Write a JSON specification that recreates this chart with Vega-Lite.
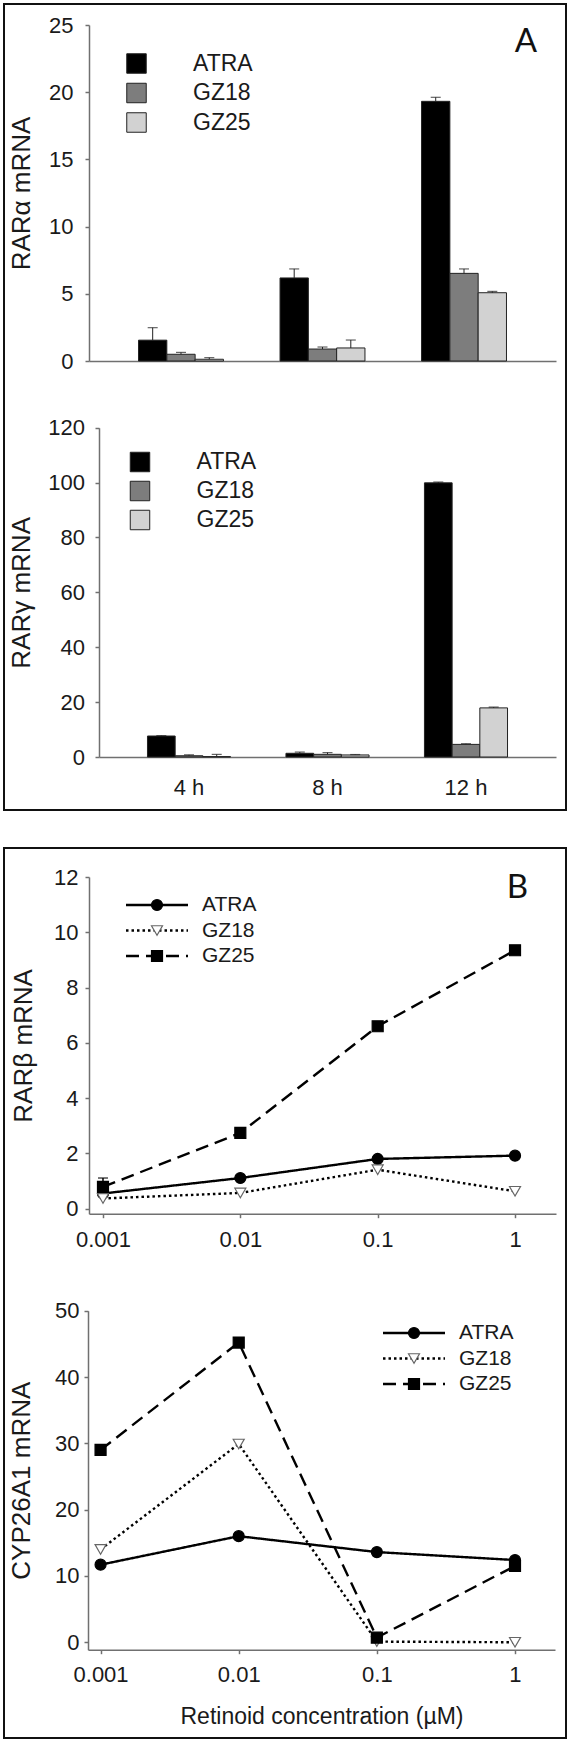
{
  "$schema": "https://vega.github.io/schema/vega-lite/v6.json",
  "padding": {"left": 3, "top": 3, "right": 3, "bottom": 3},
  "spacing": 36,
  "config": {
    "font": "Liberation Sans",
    "view": {"stroke": "#111111", "strokeWidth": 2},
    "axis": {"grid": false, "domainColor": "#707070", "domainWidth": 1.5, "tickColor": "#707070", "tickWidth": 1.5, "labelFontSize": 22, "labelColor": "#1a1a1a", "labelFont": "Liberation Sans", "titleFontSize": 26, "titleFontWeight": "normal", "titleColor": "#1a1a1a", "titleFont": "Liberation Sans"},
    "legend": {"labelFont": "Liberation Sans", "labelColor": "#1a1a1a", "padding": 0, "title": null}
  },
  "datasets": {
    "rara": [
      {"time": "4 h", "group": "ATRA", "value": 1.55, "upper": 2.48},
      {"time": "4 h", "group": "GZ18", "value": 0.5, "upper": 0.64},
      {"time": "4 h", "group": "GZ25", "value": 0.13, "upper": 0.25},
      {"time": "8 h", "group": "ATRA", "value": 6.18, "upper": 6.85},
      {"time": "8 h", "group": "GZ18", "value": 0.89, "upper": 1.04},
      {"time": "8 h", "group": "GZ25", "value": 0.97, "upper": 1.56},
      {"time": "12 h", "group": "ATRA", "value": 19.32, "upper": 19.62},
      {"time": "12 h", "group": "GZ18", "value": 6.52, "upper": 6.85},
      {"time": "12 h", "group": "GZ25", "value": 5.08, "upper": 5.18}
    ],
    "rarg": [
      {"time": "4 h", "group": "ATRA", "value": 7.65, "upper": 7.8},
      {"time": "4 h", "group": "GZ18", "value": 0.45, "upper": 0.8},
      {"time": "4 h", "group": "GZ25", "value": 0.15, "upper": 0.95},
      {"time": "8 h", "group": "ATRA", "value": 1.35, "upper": 1.8},
      {"time": "8 h", "group": "GZ18", "value": 0.97, "upper": 1.6},
      {"time": "8 h", "group": "GZ25", "value": 0.75, "upper": 0.9},
      {"time": "12 h", "group": "ATRA", "value": 99.9, "upper": 100.2},
      {"time": "12 h", "group": "GZ18", "value": 4.6, "upper": 4.85},
      {"time": "12 h", "group": "GZ25", "value": 17.9, "upper": 18.2}
    ],
    "rarb": [
      {"conc": 0.001, "group": "ATRA", "value": 0.55},
      {"conc": 0.01, "group": "ATRA", "value": 1.11},
      {"conc": 0.1, "group": "ATRA", "value": 1.8},
      {"conc": 1, "group": "ATRA", "value": 1.92},
      {"conc": 0.001, "group": "GZ18", "value": 0.37},
      {"conc": 0.01, "group": "GZ18", "value": 0.57},
      {"conc": 0.1, "group": "GZ18", "value": 1.41},
      {"conc": 1, "group": "GZ18", "value": 0.63},
      {"conc": 0.001, "group": "GZ25", "value": 0.79, "upper": 1.11},
      {"conc": 0.01, "group": "GZ25", "value": 2.74},
      {"conc": 0.1, "group": "GZ25", "value": 6.6},
      {"conc": 1, "group": "GZ25", "value": 9.35}
    ],
    "cyp": [
      {"conc": 0.001, "group": "ATRA", "value": 11.7},
      {"conc": 0.01, "group": "ATRA", "value": 16.0},
      {"conc": 0.1, "group": "ATRA", "value": 13.6},
      {"conc": 1, "group": "ATRA", "value": 12.4},
      {"conc": 0.001, "group": "GZ18", "value": 14.0},
      {"conc": 0.01, "group": "GZ18", "value": 29.9},
      {"conc": 0.1, "group": "GZ18", "value": 0.1},
      {"conc": 1, "group": "GZ18", "value": 0.0},
      {"conc": 0.001, "group": "GZ25", "value": 29.0},
      {"conc": 0.01, "group": "GZ25", "value": 45.2},
      {"conc": 0.1, "group": "GZ25", "value": 0.7},
      {"conc": 1, "group": "GZ25", "value": 11.5}
    ]
  },
  "vconcat": [
    {
      "width": 562,
      "height": 806,
      "title": {"text": "A", "orient": "top", "anchor": "end", "frame": "group", "offset": -55, "dx": -29, "baseline": "top", "font": "Lato", "fontSize": 33, "fontWeight": "normal", "color": "#111111"},
      "layer": [
        {
          "data": {"name": "rara"},
          "layer": [
            {
              "mark": {"type": "bar", "stroke": "#222222", "strokeWidth": 1},
              "encoding": {
                "x": {"field": "time", "type": "nominal", "sort": ["4 h", "8 h", "12 h"],
                  "scale": {"domain": ["4 h", "8 h", "12 h"], "range": [85, 552], "paddingInner": 0.4, "paddingOuter": 0.35},
                  "axis": {"orient": "bottom", "offset": -449, "labels": false, "ticks": false, "title": null}},
                "xOffset": {"field": "group", "type": "nominal", "scale": {"domain": ["ATRA", "GZ18", "GZ25"], "paddingInner": 0, "paddingOuter": 0}},
                "y": {"field": "value", "type": "quantitative",
                  "scale": {"domain": [0, 25], "range": [357, 21], "nice": false},
                  "axis": {"orient": "left", "offset": -85, "values": [0, 5, 10, 15, 20, 25], "format": "~g", "tickSize": 4, "labelPadding": 12, "title": "RARα mRNA", "titleX": -60, "titleBaseline": "alphabetic"}},
                "fill": {"field": "group", "type": "nominal",
                  "scale": {"domain": ["ATRA", "GZ18", "GZ25"], "range": ["#000000", "#7d7d7d", "#d2d2d2"]},
                  "legend": {"orient": "none", "legendX": 121, "legendY": 48, "title": null, "symbolType": "square", "symbolSize": 380, "symbolStrokeColor": "#222222", "symbolStrokeWidth": 1, "symbolOpacity": 1, "labelFontSize": 23, "labelOffset": 45, "clipHeight": 23, "rowPadding": 5.5}}
              }
            },
            {
              "mark": {"type": "rule", "color": "#222222", "strokeWidth": 1},
              "encoding": {
                "x": {"field": "time", "type": "nominal"},
                "xOffset": {"field": "group", "type": "nominal"},
                "y": {"field": "value", "type": "quantitative"},
                "y2": {"field": "upper"}
              }
            },
            {
              "mark": {"type": "tick", "orient": "horizontal", "color": "#222222", "thickness": 1.2, "size": 10},
              "encoding": {
                "x": {"field": "time", "type": "nominal"},
                "xOffset": {"field": "group", "type": "nominal"},
                "y": {"field": "upper", "type": "quantitative"}
              }
            }
          ]
        },
        {
          "data": {"name": "rarg"},
          "layer": [
            {
              "mark": {"type": "bar", "stroke": "#222222", "strokeWidth": 1},
              "encoding": {
                "x": {"field": "time", "type": "nominal", "sort": ["4 h", "8 h", "12 h"],
                  "scale": {"domain": ["4 h", "8 h", "12 h"], "range": [95, 552], "paddingInner": 0.4, "paddingOuter": 0.35},
                  "axis": {"orient": "bottom", "offset": -53, "labels": true, "ticks": false, "tickSize": 0, "labelPadding": 20, "labelAngle": 0, "title": null}},
                "xOffset": {"field": "group", "type": "nominal", "scale": {"domain": ["ATRA", "GZ18", "GZ25"], "paddingInner": 0, "paddingOuter": 0}},
                "y": {"field": "value", "type": "quantitative",
                  "scale": {"domain": [0, 120], "range": [753, 423.7], "nice": false},
                  "axis": {"orient": "left", "offset": -95, "values": [0, 20, 40, 60, 80, 100, 120], "format": "~g", "tickSize": 4, "labelPadding": 10.5, "title": "RARγ mRNA", "titleX": -70, "titleBaseline": "alphabetic"}},
                "fill": {"field": "group", "type": "nominal",
                  "scale": {"domain": ["ATRA", "GZ18", "GZ25"], "range": ["#000000", "#7d7d7d", "#d2d2d2"]},
                  "legend": {"orient": "none", "legendX": 124.5, "legendY": 446.5, "title": null, "symbolType": "square", "symbolSize": 380, "symbolStrokeColor": "#222222", "symbolStrokeWidth": 1, "symbolOpacity": 1, "labelFontSize": 23, "labelOffset": 45, "clipHeight": 23, "rowPadding": 5}}
              }
            },
            {
              "mark": {"type": "rule", "color": "#222222", "strokeWidth": 1},
              "encoding": {
                "x": {"field": "time", "type": "nominal"},
                "xOffset": {"field": "group", "type": "nominal"},
                "y": {"field": "value", "type": "quantitative"},
                "y2": {"field": "upper"}
              }
            },
            {
              "mark": {"type": "tick", "orient": "horizontal", "color": "#222222", "thickness": 1.2, "size": 10},
              "encoding": {
                "x": {"field": "time", "type": "nominal"},
                "xOffset": {"field": "group", "type": "nominal"},
                "y": {"field": "upper", "type": "quantitative"}
              }
            }
          ]
        }
      ],
      "resolve": {
        "scale": {"x": "independent", "y": "independent", "xOffset": "independent", "fill": "independent"},
        "axis": {"x": "independent", "y": "independent"},
        "legend": {"fill": "independent"}
      }
    },
    {
      "width": 562,
      "height": 890,
      "title": {"text": "B", "orient": "top", "anchor": "end", "frame": "group", "offset": -57, "dx": -38, "baseline": "top", "font": "Lato", "fontSize": 33, "fontWeight": "normal", "color": "#111111"},
      "layer": [
        {
          "data": {"name": "rarb"},
          "layer": [
            {
              "mark": {"type": "line", "color": "#000000", "strokeWidth": 2.4},
              "encoding": {
                "x": {"field": "conc", "type": "quantitative",
                  "scale": {"type": "log", "domain": [0.000791, 1.988], "range": [85, 552], "nice": false},
                  "axis": {"orient": "bottom", "offset": -524.3, "values": [0.001, 0.01, 0.1, 1], "format": "~g", "tickSize": 4, "labelPadding": 12, "labelFlush": false, "title": null}},
                "y": {"field": "value", "type": "quantitative",
                  "scale": {"domain": [-0.181, 12], "range": [365.7, 29], "nice": false, "zero": false},
                  "axis": {"orient": "left", "offset": -85, "values": [0, 2, 4, 6, 8, 10, 12], "format": "~g", "tickSize": 4, "labelPadding": 7, "title": "RARβ mRNA", "titleX": -58, "titleBaseline": "alphabetic"}},
                "strokeDash": {"field": "group", "type": "nominal",
                  "scale": {"range": [[1, 0], [2.5, 3], [13, 7]]},
                  "legend": {"orient": "none", "legendX": 120.5, "legendY": 45, "title": null, "symbolType": "stroke", "symbolSize": 3844, "symbolStrokeWidth": 2.4, "symbolStrokeColor": "#000000", "symbolOpacity": 1, "labelFontSize": 21, "labelOffset": 12.5, "clipHeight": 24, "rowPadding": 1.5}}
              }
            },
            {
              "transform": [{"filter": "datum.upper != null"}],
              "mark": {"type": "rule", "color": "#000000", "strokeWidth": 1.5},
              "encoding": {
                "x": {"field": "conc", "type": "quantitative"},
                "y": {"field": "value", "type": "quantitative"},
                "y2": {"field": "upper"}
              }
            },
            {
              "transform": [{"filter": "datum.upper != null"}],
              "mark": {"type": "tick", "orient": "horizontal", "color": "#000000", "thickness": 1.5, "size": 10},
              "encoding": {
                "x": {"field": "conc", "type": "quantitative"},
                "y": {"field": "upper", "type": "quantitative"}
              }
            },
            {
              "mark": {"type": "point", "filled": true, "size": 121, "opacity": 1, "strokeWidth": 1.2},
              "encoding": {
                "x": {"field": "conc", "type": "quantitative"},
                "y": {"field": "value", "type": "quantitative"},
                "shape": {"field": "group", "type": "nominal", "scale": {"domain": ["ATRA", "GZ18", "GZ25"], "range": ["circle", "triangle-down", "square"]},
                  "legend": {"orient": "none", "legendX": 142.5, "legendY": 45, "title": null, "symbolSize": 121, "symbolStrokeWidth": 1.2, "symbolOpacity": 1, "labelFontSize": 21, "labelExpr": "''", "clipHeight": 24, "rowPadding": 1.5,
                    "encoding": {"symbols": {
                      "fill": {"value": {"expr": "datum.value === 'GZ18' ? '#ffffff' : '#000000'"}},
                      "stroke": {"value": {"expr": "datum.value === 'GZ18' ? '#666666' : '#000000'"}},
                      "opacity": {"value": 1}
                    }}}},
                "fill": {"field": "group", "type": "nominal", "scale": {"domain": ["ATRA", "GZ18", "GZ25"], "range": ["#000000", "#ffffff", "#000000"]}, "legend": null},
                "stroke": {"field": "group", "type": "nominal", "scale": {"domain": ["ATRA", "GZ18", "GZ25"], "range": ["#000000", "#666666", "#000000"]}, "legend": null}
              }
            }
          ]
        },
        {
          "data": {"name": "cyp"},
          "layer": [
            {
              "mark": {"type": "line", "color": "#000000", "strokeWidth": 2.4},
              "encoding": {
                "x": {"field": "conc", "type": "quantitative",
                  "scale": {"type": "log", "domain": [0.000811, 1.948], "range": [84, 551], "nice": false},
                  "axis": {"orient": "bottom", "offset": -88.3, "values": [0.001, 0.01, 0.1, 1], "format": "~g", "tickSize": 4, "labelPadding": 11, "labelFlush": false, "title": "Retinoid concentration (µM)", "titleFontSize": 23, "titleY": 73.3, "titleBaseline": "alphabetic"}},
                "y": {"field": "value", "type": "quantitative",
                  "scale": {"domain": [-1.12, 50], "range": [801.7, 462.7], "nice": false, "zero": false},
                  "axis": {"orient": "left", "offset": -84, "values": [0, 10, 20, 30, 40, 50], "format": "~g", "tickSize": 4, "labelPadding": 5, "title": "CYP26A1 mRNA", "titleX": -59, "titleBaseline": "alphabetic"}},
                "strokeDash": {"field": "group", "type": "nominal",
                  "scale": {"range": [[1, 0], [2.5, 3], [13, 7]]},
                  "legend": {"orient": "none", "legendX": 377.5, "legendY": 473, "title": null, "symbolType": "stroke", "symbolSize": 3844, "symbolStrokeWidth": 2.4, "symbolStrokeColor": "#000000", "symbolOpacity": 1, "labelFontSize": 21, "labelOffset": 12.5, "clipHeight": 24, "rowPadding": 1.5}}
              }
            },
            {
              "mark": {"type": "point", "filled": true, "size": 121, "opacity": 1, "strokeWidth": 1.2},
              "encoding": {
                "x": {"field": "conc", "type": "quantitative"},
                "y": {"field": "value", "type": "quantitative"},
                "shape": {"field": "group", "type": "nominal", "scale": {"domain": ["ATRA", "GZ18", "GZ25"], "range": ["circle", "triangle-down", "square"]},
                  "legend": {"orient": "none", "legendX": 399.5, "legendY": 473, "title": null, "symbolSize": 121, "symbolStrokeWidth": 1.2, "symbolOpacity": 1, "labelFontSize": 21, "labelExpr": "''", "clipHeight": 24, "rowPadding": 1.5,
                    "encoding": {"symbols": {
                      "fill": {"value": {"expr": "datum.value === 'GZ18' ? '#ffffff' : '#000000'"}},
                      "stroke": {"value": {"expr": "datum.value === 'GZ18' ? '#666666' : '#000000'"}},
                      "opacity": {"value": 1}
                    }}}},
                "fill": {"field": "group", "type": "nominal", "scale": {"domain": ["ATRA", "GZ18", "GZ25"], "range": ["#000000", "#ffffff", "#000000"]}, "legend": null},
                "stroke": {"field": "group", "type": "nominal", "scale": {"domain": ["ATRA", "GZ18", "GZ25"], "range": ["#000000", "#666666", "#000000"]}, "legend": null}
              }
            }
          ]
        }
      ],
      "resolve": {
        "scale": {"x": "independent", "y": "independent", "strokeDash": "independent", "shape": "independent", "fill": "independent", "stroke": "independent"},
        "axis": {"x": "independent", "y": "independent"},
        "legend": {"strokeDash": "independent", "shape": "independent"}
      }
    }
  ]
}
